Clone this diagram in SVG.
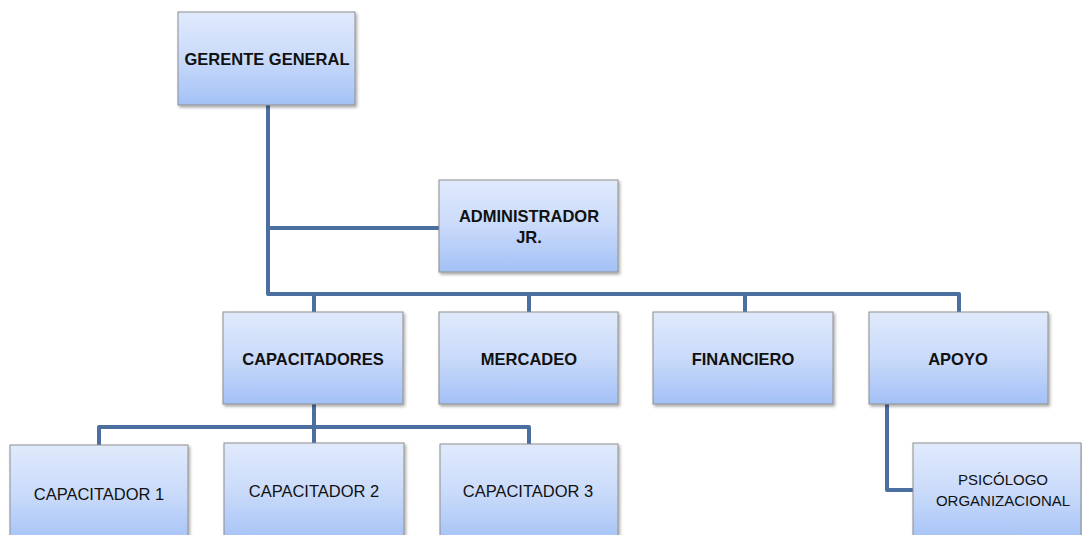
<svg xmlns="http://www.w3.org/2000/svg" width="1082" height="535" viewBox="0 0 1082 535">
<defs>
<linearGradient id="g" x1="0" y1="0" x2="0" y2="1">
<stop offset="0" stop-color="#e0eafc"/>
<stop offset="0.5" stop-color="#c9dafa"/>
<stop offset="1" stop-color="#a3c1f6"/>
</linearGradient>
<filter id="sh" x="-10%" y="-10%" width="130%" height="130%">
<feDropShadow dx="1.5" dy="2" stdDeviation="1.5" flood-color="#000" flood-opacity="0.35"/>
</filter>
</defs>
<style>
.box{fill:url(#g);stroke:#8e8e8e;stroke-width:1;filter:url(#sh)}
.b{font-family:"Liberation Sans",Arial,sans-serif;font-weight:bold;font-size:16.5px;fill:#111;text-anchor:middle}
.r{font-family:"Liberation Sans",Arial,sans-serif;font-size:16.5px;fill:#111;text-anchor:middle}
.c{fill:none;stroke:#4a6fa0;stroke-width:4;stroke-linejoin:round}
</style>
<rect width="1082" height="535" fill="#fff"/>
<g id="connectors">
<path class="c" d="M268 105 V294 H959 V312"/>
<path class="c" d="M314 294 V312"/>
<path class="c" d="M529 294 V312"/>
<path class="c" d="M745 294 V312"/>
<path class="c" d="M268 228 H439"/>
<path class="c" d="M314 404 V445"/>
<path class="c" d="M99 445 V427 H529 V444"/>
<path class="c" d="M887 404 V490 H913"/>
</g>
<g id="gerente"><rect class="box" x="178" y="12" width="177" height="93"/><text class="b" x="267" y="65">GERENTE GENERAL</text></g>
<g id="administrador"><rect class="box" x="439" y="180" width="179" height="92"/><text class="b" x="529" y="222">ADMINISTRADOR</text><text class="b" x="529" y="243">JR.</text></g>
<g id="capacitadores"><rect class="box" x="223" y="312" width="180" height="92"/><text class="b" x="313" y="365">CAPACITADORES</text></g>
<g id="mercadeo"><rect class="box" x="439" y="312" width="179" height="92"/><text class="b" x="529" y="365">MERCADEO</text></g>
<g id="financiero"><rect class="box" x="653" y="312" width="180" height="92"/><text class="b" x="743" y="365">FINANCIERO</text></g>
<g id="apoyo"><rect class="box" x="869" y="312" width="179" height="92"/><text class="b" x="958" y="365">APOYO</text></g>
<g id="capacitador1"><rect class="box" x="10" y="445" width="178" height="100"/><text class="r" x="99" y="500">CAPACITADOR 1</text></g>
<g id="capacitador2"><rect class="box" x="224" y="443" width="180" height="100"/><text class="r" x="314" y="497">CAPACITADOR 2</text></g>
<g id="capacitador3"><rect class="box" x="440" y="444" width="178" height="100"/><text class="r" x="528" y="497">CAPACITADOR 3</text></g>
<g id="psicologo"><rect class="box" x="913" y="443" width="168" height="100"/><text class="r" x="1003" y="485" style="font-size:15px">PSICÓLOGO</text><text class="r" x="1003" y="506" style="font-size:15px">ORGANIZACIONAL</text></g>
</svg>
